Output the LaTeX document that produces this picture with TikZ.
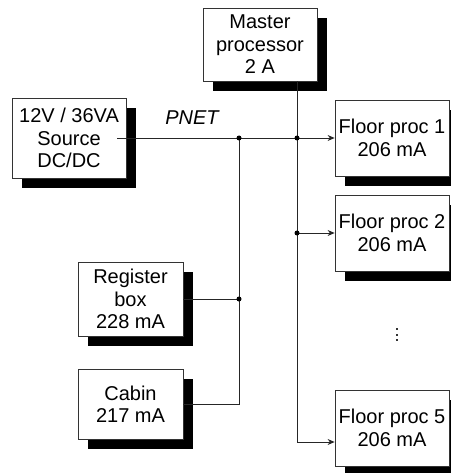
\documentclass[tikz,border=0pt]{standalone}
\usepackage{fontspec}
\setmainfont{Liberation Sans}
\usetikzlibrary{shadows,arrows.meta}
\tikzset{
  box/.style={draw=black!80, line width=0.8pt, fill=white, align=center, inner sep=0pt,
    font=\fontsize{20}{22.5}\selectfont,
    general shadow={fill=black, shadow xshift=10pt, shadow yshift=-10pt}},
  wire/.style={line width=0.8pt, black!85},
  arr/.style={wire, -{Stealth[length=7pt,width=6pt]}},
  dot/.style={circle, fill=black, inner sep=0pt, minimum size=5pt},
  edot/.style={rectangle, fill=black!80, inner sep=0pt, minimum size=2pt}
}
\begin{document}
\begin{tikzpicture}[x=1pt,y=-1pt]
\useasboundingbox (0,0) rectangle (450,473);
\node[box, minimum width=114pt, minimum height=73pt] (master) at (260,44.5) {Master\\processor\\2 A};
\node[box, minimum width=114pt, minimum height=80pt] (src) at (69,138) {12V / 36VA\\Source\\DC/DC};
\node[box, minimum width=114pt, minimum height=76pt] (f1) at (392,138) {Floor proc 1\\206 mA};
\node[box, minimum width=114pt, minimum height=76pt] (f2) at (392,233) {Floor proc 2\\206 mA};
\node[box, minimum width=114pt, minimum height=76pt] (f5) at (392,428) {Floor proc 5\\206 mA};
\node[box, minimum width=105pt, minimum height=74pt] (reg) at (130.5,299) {Register\\box\\228 mA};
\node[box, minimum width=105pt, minimum height=70pt] (cab) at (130.5,404) {Cabin\\217 mA};
\node[font=\fontsize{20}{22.5}\selectfont\itshape] (pnet) at (192,118) {PNET};
\node[edot] (e1) at (397,329) {};
\node[edot] (e2) at (397,334.7) {};
\node[edot] (e3) at (397,340.4) {};
\coordinate (j1) at (239,138);
\coordinate (j2) at (297,138);
\draw[arr] ([xshift=-9pt]src.east) -- (f1.west);
\draw[arr] (j2 |- master.south) |- ([yshift=-14pt]f5.west);
\draw[arr] (j2 |- f2.west) -- (f2.west);
\draw[wire] (reg.east) -- (j1 |- reg.east);
\draw[wire] (cab.east) -| (j1);
\node[dot] (d1) at (j1) {};
\node[dot] (d2) at (j2) {};
\node[dot] (d3) at (j2 |- f2.west) {};
\node[dot] (d4) at (j1 |- reg.east) {};
\end{tikzpicture}
\end{document}
